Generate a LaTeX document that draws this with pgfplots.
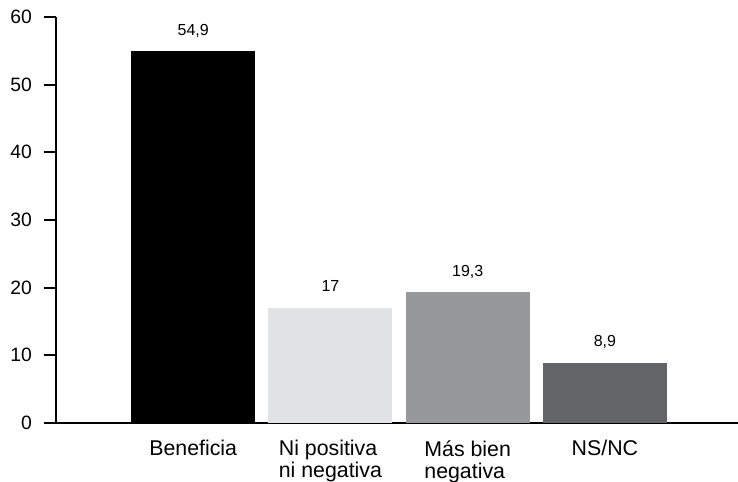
\documentclass[border=0pt]{standalone}
\usepackage{pgfplots}
\pgfplotsset{compat=1.18}
\usepackage{fontspec}
\setmainfont{Liberation Sans}

\definecolor{barA}{HTML}{000000}
\definecolor{barB}{HTML}{E1E2E4}
\definecolor{barC}{HTML}{97989B}
\definecolor{barD}{HTML}{636467}

\begin{document}
\begin{tikzpicture}
\begin{axis}[
    scale only axis,
    width=511.5pt,
    height=304.5pt,
    xmin=-1, xmax=3.97,
    ymin=0, ymax=60,
    axis x line*=bottom,
    axis y line*=left,
    axis line style={-, line width=1.5pt},
    ybar,
    bar width=93pt,
    bar shift=0pt,
    ytick={0,10,...,60},
    xtick={0,1,2,3},
    xticklabels={Beneficia,{Ni positiva\\ni negativa},{Más bien\\negativa},NS/NC},
    tick align=outside,
    major tick length=9pt,
    ytick pos=left,
    major x tick style={draw=none},
    major y tick style={line width=1.5pt, black},
    /pgf/number format/assume math mode=true,
    /pgf/number format/use comma,
    yticklabel style={font=\fontsize{14.5}{16}\selectfont, xshift=-5.5pt},
    xticklabel style={font=\fontsize{16}{16.5}\selectfont, align=left, anchor=north, yshift=-0.5pt},
    nodes near coords,
    nodes near coords style={font=\fontsize{12}{14}\selectfont, text=black, anchor=base, yshift=12pt},
]
\addplot[fill=barA, draw=none] coordinates {(0,54.9)};
\addplot[fill=barB, draw=none] coordinates {(1,17)};
\addplot[fill=barC, draw=none] coordinates {(2,19.3)};
\addplot[fill=barD, draw=none] coordinates {(3,8.9)};
\coordinate (bl) at (rel axis cs:0,0);
\coordinate (tr) at (rel axis cs:1,1);
\end{axis}
\pgfresetboundingbox
\path ([xshift=-42pt,yshift=-44.25pt]bl) rectangle ([yshift=12.75pt]tr);
\end{tikzpicture}
\end{document}
